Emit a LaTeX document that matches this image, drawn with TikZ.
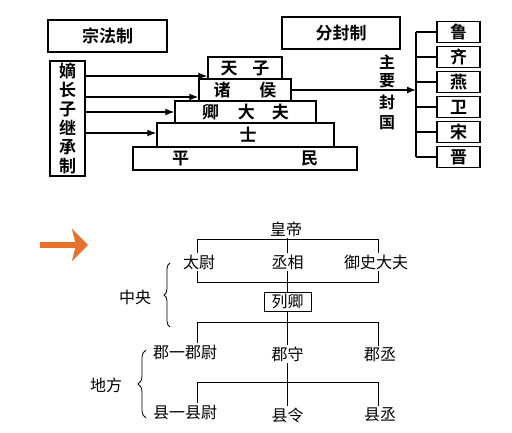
\documentclass[tikz,border=0pt]{standalone}
\usepackage{fontspec}
\newfontfamily\cjk{Noto Sans CJK SC}[BoldFont={Noto Sans CJK SC Bold}]
\usetikzlibrary{positioning, arrows.meta, decorations.pathreplacing}
\definecolor{arrorange}{RGB}{232,114,42}

\begin{document}
\begin{tikzpicture}[x=1pt, y=-1pt,
		bigbox/.style={draw, line width=1.4pt, inner sep=0pt, font=\cjk\bfseries\fontsize{17}{19}\selectfont},
		layer/.style={bigbox, minimum height=22pt},
		state/.style={bigbox, minimum width=43pt, minimum height=21pt},
		office/.style={inner sep=1.5pt, font=\cjk\fontsize{16}{18}\selectfont},
		arr/.style={-{Latex[length=9pt, width=7pt]}, line width=1.3pt},
		link/.style={line width=0.8pt}]
		\useasboundingbox (0,0) rectangle (512,433);
		% upper half
		\node[bigbox, minimum width=119pt, minimum height=32pt] (zongfa) at (107.5,36) {宗法制};
		\node[bigbox, minimum width=35pt, minimum height=115pt, align=center] (dizhang) at (67.5,118.5) {嫡\\长\\子\\继\\承\\制};
		\node[layer, minimum width=74pt] (tianzi) at (245,68) {天\hspace{15pt}子};
		\node[layer, minimum width=92pt] (zhuhou) at (245,90) {诸\hspace{29pt}侯};
		\node[layer, minimum width=141pt] (qing) at (245.5,112) {卿\hspace{19pt}大\hspace{17pt}夫};
		\node[layer, minimum width=177pt, minimum height=24pt] (shi) at (245.5,135) {\hspace{5pt}士};
		\node[layer, minimum width=224pt, minimum height=23pt] (pingmin) at (245,158.5) {平\hspace{112pt}民};
		\node[bigbox, minimum width=118pt, minimum height=32pt] (fenfeng) at (341,33) {分封制};
		\node[bigbox, draw=none, align=center, font=\cjk\bfseries\fontsize{16}{18}\selectfont] (zhuyao) at (387,71) {主\\要};
		\node[bigbox, draw=none, align=center, font=\cjk\bfseries\fontsize{16}{20}\selectfont] (fengguo) at (387,112) {封\\国};
		\foreach \n/\t [count=\i from 0] in {lu/鲁, qi/齐, yan/燕, wei/卫, song/宋, jin/晋}
			\node[state] (\n) at (458.5,32+25*\i) {\t};
		
		\path ([yshift=-8pt]tianzi.west) coordinate (in1)
			  ([yshift=-7pt]zhuhou.west) coordinate (in2)
			  (qing.west) coordinate (in3)
			  ([yshift=2pt]shi.west) coordinate (in4);
		\foreach \c in {in1, in2, in3, in4}
			\draw[arr] (\c -| dizhang.east) -- (\c);
		\coordinate (spine) at (416,90);
		\draw[arr] (zhuhou.east) -- (zhuhou.east -| spine);
		\draw[line width=1.4pt] (lu.west -| spine) -- (jin.west -| spine);
		\foreach \n in {lu, qi, yan, wei, song, jin}
			\draw[line width=1.4pt] (\n.west) -- (\n.west -| spine);
		
		% lower half
		\coordinate (o1) at (40,245);
		\coordinate (o2) at (88,245);
		\draw[arrorange, line width=5.5pt, -{Stealth[length=16pt, width=32pt, inset=4pt]}] (o1) -- (o2);
		
		\node[office] (huangdi) at (286,229) {皇帝};
		\node[office] (taiwei) at (199,262) {太尉};
		\node[office] (chengxiang) at (287.5,262) {丞相};
		\node[office] (yushi) at (376,262) {御史大夫};
		\node[office, draw, line width=0.8pt, inner sep=1pt, minimum width=47pt, minimum height=19pt] (lieqing) at (287.5,301.5) {列卿};
		\node[office] (junwei) at (185,352) {郡一郡尉};
		\node[office] (junshou) at (287.5,354) {郡守};
		\node[office] (juncheng) at (380,355) {郡丞};
		\node[office] (xianwei) at (185,412) {县一县尉};
		\node[office] (xianling) at (287.5,415) {县令};
		\node[office] (xiancheng) at (380,415) {县丞};
		\node[office] (zhongyang) at (135,297) {中央};
		\node[office] (difang) at (106,385) {地方};
		
		\coordinate (lcol) at (197,0);
		\coordinate (rcol) at (378,0);
		\coordinate (barA) at (0,239);
		\coordinate (barB) at (0,282);
		\coordinate (barC) at (0,322);
		\coordinate (barD) at (0,382);
		\draw[link] (huangdi.south -| chengxiang.north) -- (chengxiang.north);
		\draw[link] (taiwei.north -| lcol) -- (barA -| lcol) -- (barA -| rcol) -- (yushi.north -| rcol);
		\draw[link] (taiwei.south -| lcol) -- (barB -| lcol) -- (barB -| rcol) -- (yushi.south -| rcol);
		\draw[link] (chengxiang) -- (lieqing);
		\draw[link] (lieqing) -- (junshou);
		\draw[link] (junwei.north -| lcol) -- (barC -| lcol) -- (barC -| rcol) -- (juncheng.north -| rcol);
		\draw[link] (junshou) -- (xianling);
		\draw[link] (xianwei.north -| lcol) -- (barD -| lcol) -- (barD -| rcol) -- (xiancheng.north -| rcol);
		\draw[link, decorate, decoration={brace, amplitude=6pt}] (170,327) -- (170,263);
		\draw[link, decorate, decoration={brace, amplitude=8pt}] (146,418) -- (146,350);
	\end{tikzpicture}
\end{document}
